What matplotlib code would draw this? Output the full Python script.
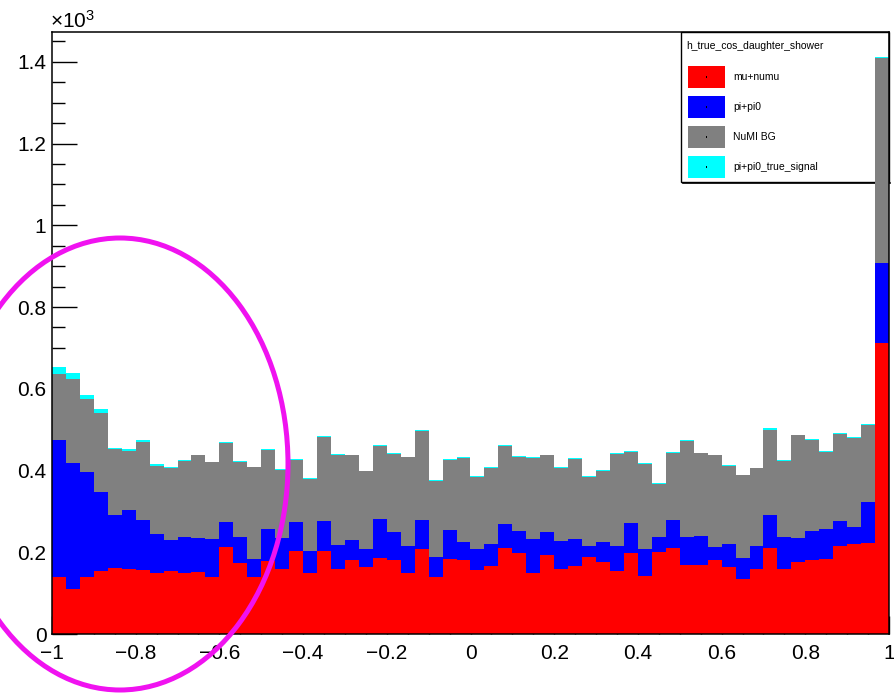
import numpy as np
import matplotlib.pyplot as plt
import matplotlib.transforms as mtransforms
from matplotlib.patches import Ellipse, Rectangle
from matplotlib.ticker import MultipleLocator, FuncFormatter

plt.rcParams['font.family'] = ['Liberation Sans', 'DejaVu Sans']
plt.rcParams['mathtext.fontset'] = 'custom'
plt.rcParams['mathtext.rm'] = 'Liberation Sans'

# ---------------- DATA ----------------
n_bins = 60
x_min, x_max = -1.0, 1.0

mu_numu = [140, 110, 140, 153, 161, 158, 157, 150, 154, 149,
           151, 140, 214, 173, 140, 178, 158, 204, 150, 202,
           160, 180, 163, 187, 180, 150, 209, 140, 184, 182,
           156, 167, 210, 197, 150, 194, 158, 167, 188, 175,
           155, 198, 143, 200, 210, 170, 168, 182, 165, 134,
           159, 211, 158, 176, 182, 184, 215, 221, 223, 712]

pi_pi0 = [334, 309, 256, 194, 130, 146, 121, 95, 75, 89,
          83, 93, 59, 65, 44, 80, 78, 69, 54, 75,
          57, 49, 46, 95, 69, 65, 70, 49, 70, 42,
          52, 52, 58, 55, 83, 55, 70, 66, 28, 50,
          60, 73, 65, 38, 68, 68, 73, 32, 54, 52,
          57, 79, 80, 60, 71, 74, 61, 42, 99, 196]

numi_bg = [161, 205, 180, 194, 161, 143, 191, 166, 176, 185,
           203, 187, 195, 183, 224, 191, 166, 152, 176, 205,
           221, 208, 189, 177, 192, 217, 217, 186, 171, 207,
           176, 187, 191, 181, 198, 188, 179, 196, 169, 174,
           225, 175, 209, 129, 165, 235, 201, 223, 192, 202,
           189, 208, 185, 250, 221, 187, 213, 217, 189, 502]

pi_pi0_true_signal = [19, 15, 9, 9, 4, 6, 6, 4, 3, 3,
                      2, 2, 2, 2, 1, 3, 1, 2, 1, 2,
                      2, 2, 2, 4, 2, 2, 2, 2, 3, 2,
                      2, 3, 3, 2, 2, 2, 2, 2, 2, 2,
                      3, 2, 1, 2, 2, 2, 2, 2, 2, 2,
                      2, 5, 2, 2, 3, 2, 2, 2, 3, 3]

labels = ["mu+numu", "pi+pi0", "NuMI BG", "pi+pi0_true_signal"]
colors = ["#ff0000", "#0000ff", "#808080", "#00ffff"]
legend_title = "h_true_cos_daughter_shower"

# ---------------- FIGURE ----------------
W, H = 895, 694
fig = plt.figure(figsize=(W / 100, H / 100), dpi=100)
ax = fig.add_axes([52 / W, 1 - 634 / H, 837 / W, 602 / H])

# pixel coords (origin top-left) for the hand-placed legend
px = mtransforms.Affine2D().scale(1 / W, -1 / H).translate(0, 1) + fig.transFigure

# stacked histogram
edges = np.linspace(x_min, x_max, n_bins + 1)
bottom = np.zeros(n_bins)
for vals, c in zip([mu_numu, pi_pi0, numi_bg, pi_pi0_true_signal], colors):
    top = bottom + np.array(vals, dtype=float)
    ax.stairs(top, edges, baseline=bottom, fill=True, color=c, lw=0, zorder=2)
    bottom = top

ax.set_xlim(x_min, x_max)
ax.set_ylim(0, 1473)

ax.xaxis.set_major_locator(MultipleLocator(0.2))
ax.xaxis.set_minor_locator(MultipleLocator(0.05))
ax.yaxis.set_major_locator(MultipleLocator(200))
ax.yaxis.set_minor_locator(MultipleLocator(50))


def fmt_x(v, pos):
    v = round(v, 6)
    if abs(v) < 1e-9:
        return "0"
    return f"{v:g}".replace("-", "\u2212")


ax.xaxis.set_major_formatter(FuncFormatter(fmt_x))
ax.yaxis.set_major_formatter(FuncFormatter(lambda v, p: f"{round(v / 1000, 6):g}"))

ax.tick_params(which='both', direction='in', top=False, right=False,
               labelsize=15, width=1.0, color='black')
ax.tick_params(axis='y', which='major', length=18, pad=4)
ax.tick_params(axis='y', which='minor', length=9)
ax.tick_params(axis='x', which='major', length=13, pad=7)
ax.tick_params(axis='x', which='minor', length=6.5)
for s in ax.spines.values():
    s.set_linewidth(1.1)
    s.set_zorder(3)

fig.text(50 / W, 1 - 28 / H, r"$\mathregular{\times10^{3}}$", fontsize=15,
         ha='left', va='baseline')

# ---------------- LEGEND ----------------
ax.add_patch(Rectangle((681, 32), 208, 150, transform=px, facecolor='white',
                       edgecolor='black', lw=1.0, zorder=1, clip_on=False))
ax.plot([683, 890], [183, 183], transform=px, color='black', lw=1.2,
        zorder=1, clip_on=False)
ax.text(686, 46, legend_title, transform=px, fontsize=7.5, ha='left',
        va='center', zorder=1)
for i, (lab, c) in enumerate(zip(labels, colors)):
    yc = 77 + 30 * i
    ax.add_patch(Rectangle((688, yc - 11), 37, 22, transform=px, facecolor=c,
                           lw=0, zorder=1))
    ax.add_patch(Rectangle((706, yc - 0.7), 1.4, 1.4, transform=px,
                           facecolor='black', lw=0, zorder=1.1))
    ax.text(733, yc, lab, transform=px, fontsize=7.5, ha='left', va='center',
            zorder=1)

# ---------------- ANNOTATION ----------------
ov = fig.add_axes([0, 0, 1, 1], zorder=5)
ov.set_xlim(0, W)
ov.set_ylim(H, 0)
ov.axis('off')
ov.patch.set_alpha(0)
ov.add_patch(Ellipse((120, 464), 336, 452, fill=False, edgecolor='#f012f0',
                     lw=3.6))

fig.savefig("out.png", dpi=100)
